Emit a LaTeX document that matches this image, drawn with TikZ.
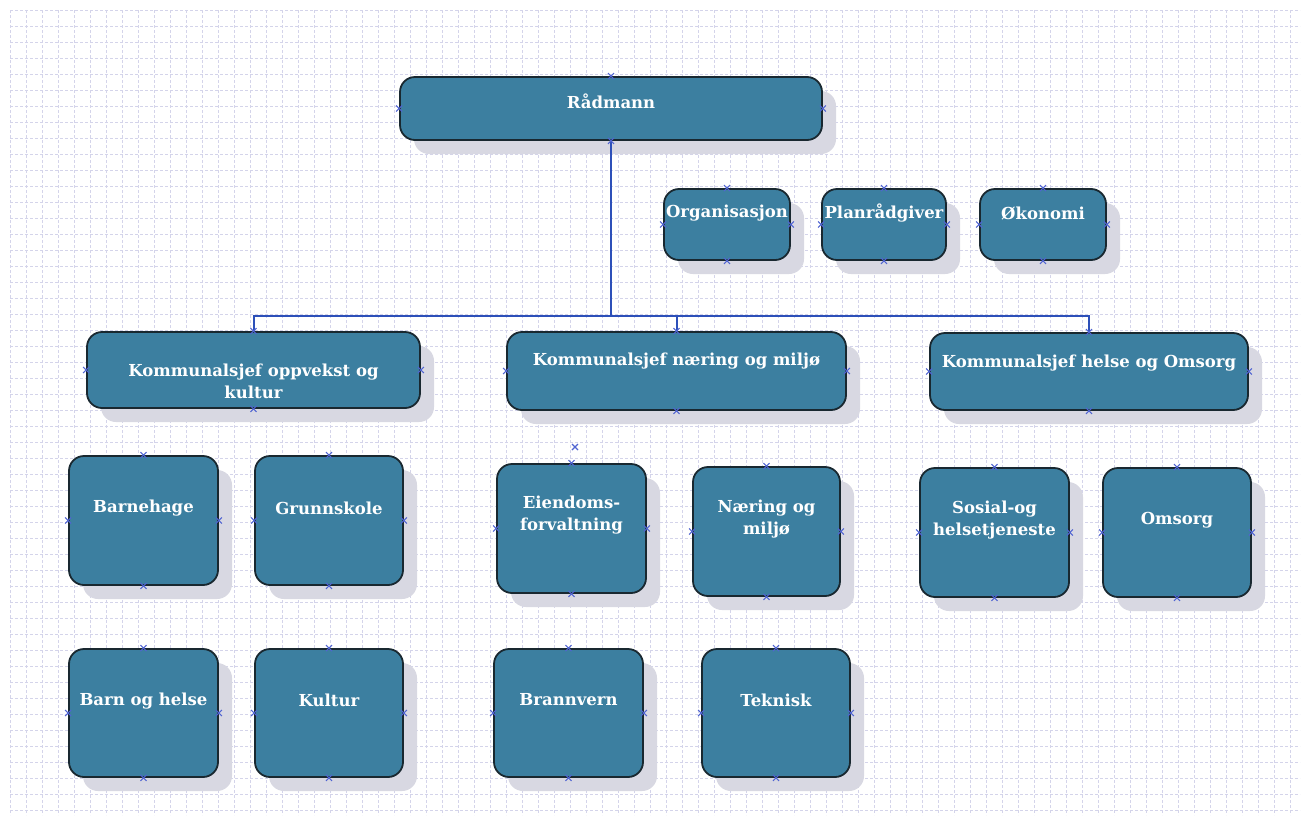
\documentclass[tikz,border=0pt]{standalone}
\usepackage{fontspec}
\setmainfont{DejaVu Serif}
\usetikzlibrary{shadows}
\definecolor{boxfill}{RGB}{60,127,160}
\definecolor{boxline}{RGB}{25,40,48}
\definecolor{shade}{RGB}{216,216,226}
\definecolor{gridc}{RGB}{212,212,234}
\definecolor{conn}{RGB}{45,80,185}
\definecolor{xmark}{RGB}{80,100,210}
\begin{document}
\begin{tikzpicture}[x=1pt,y=-1pt,
  box/.style={draw=boxline, line width=1.8pt, fill=boxfill, rounded corners=15pt,
    drop shadow={shadow xshift=14pt, shadow yshift=-14pt, fill=shade, opacity=1},
    inner sep=0pt},
  txt/.style={text=white, font=\fontsize{16.5}{22}\selectfont\bfseries, align=center, inner sep=0pt},
  link/.style={draw=conn, line width=2pt},
  xmk/.style={draw=xmark, line width=1.1pt}
]
\useasboundingbox[fill=white] (0,0) rectangle (1303,825);
% grid
\foreach \gx in {10,26,...,1300} \draw[gridc, line width=0.5pt, dash pattern=on 3pt off 2pt] (\gx,10) -- (\gx,815);
\foreach \gy in {10,26,...,815} \draw[gridc, line width=0.5pt, dash pattern=on 3pt off 2pt] (10,\gy) -- (1300,\gy);

% boxes
\node[box, minimum width=422pt, minimum height=63pt] (rad) at (611,108.5) {};
\node[box, minimum width=126pt, minimum height=71pt] (org) at (727,224.5) {};
\node[box, minimum width=124pt, minimum height=71pt] (plan) at (884,224.5) {};
\node[box, minimum width=126pt, minimum height=71pt] (oko) at (1043,224.5) {};
\node[box, minimum width=333pt, minimum height=76pt] (k1) at (253.5,370) {};
\node[box, minimum width=339pt, minimum height=78pt] (k2) at (676.5,371) {};
\node[box, minimum width=318pt, minimum height=77pt] (k3) at (1089,371.5) {};
\node[box, minimum width=149pt, minimum height=129pt] (bh) at (143.5,520.5) {};
\node[box, minimum width=148pt, minimum height=129pt] (gs) at (329,520.5) {};
\node[box, minimum width=149pt, minimum height=129pt] (ei) at (571.5,528.5) {};
\node[box, minimum width=147pt, minimum height=129pt] (nm) at (766.5,531.5) {};
\node[box, minimum width=149pt, minimum height=129pt] (so) at (994.5,532.5) {};
\node[box, minimum width=148pt, minimum height=129pt] (om) at (1177,532.5) {};
\node[box, minimum width=149pt, minimum height=128pt] (bo) at (143.5,713) {};
\node[box, minimum width=148pt, minimum height=128pt] (ku) at (329,713) {};
\node[box, minimum width=149pt, minimum height=128pt] (br) at (568.5,713) {};
\node[box, minimum width=148pt, minimum height=128pt] (te) at (776,713) {};

% texts
\node[txt] (rad-t) at (611,101) {Rådmann};
\node[txt] (org-t) at (727,213) {Organisasjon};
\node[txt] (plan-t) at (884,213) {Planrådgiver};
\node[txt] (oko-t) at (1043,213) {Økonomi};
\node[txt] (k1-t) at (253.5,381) {Kommunalsjef oppvekst og\\kultur};
\node[txt] (k2-t) at (676.5,361) {Kommunalsjef næring og miljø};
\node[txt] (k3-t) at (1089,363) {Kommunalsjef helse og Omsorg};
\node[txt] (bh-t) at (143.5,508) {Barnehage};
\node[txt] (gs-t) at (329,508) {Grunnskole};
\node[txt] (ei-t) at (571.5,515) {Eiendoms-\\forvaltning};
\node[txt] (nm-t) at (766.5,519) {Næring og\\miljø};
\node[txt] (so-t) at (994.5,520) {Sosial-og\\helsetjeneste};
\node[txt] (om-t) at (1177,520) {Omsorg};
\node[txt] (bo-t) at (143.5,701) {Barn og helse};
\node[txt] (ku-t) at (329,700) {Kultur};
\node[txt] (br-t) at (568.5,700) {Brannvern};
\node[txt] (te-t) at (776,700) {Teknisk};

% connectors
\coordinate (hub) at (rad.south |- 0,316);
\draw[link] (rad.south) -- (hub);
\draw[link] (k1.north) |- (hub);
\draw[link] (hub) -| (k3.north);
\draw[link] (k2.north) -- (k2.north |- hub);

% connection point marks
\foreach \n in {rad,org,plan,oko,k1,k2,k3,bh,gs,ei,nm,so,om,bo,ku,br,te}
  \foreach \a in {north,south,east,west}
    \draw[xmk] (\n.\a) +(-3,-3) -- +(3,3) +(-3,3) -- +(3,-3);
\coordinate (stray) at (575,447);
\draw[xmk] (stray) +(-3,-3) -- +(3,3) +(-3,3) -- +(3,-3);
\end{tikzpicture}
\end{document}
